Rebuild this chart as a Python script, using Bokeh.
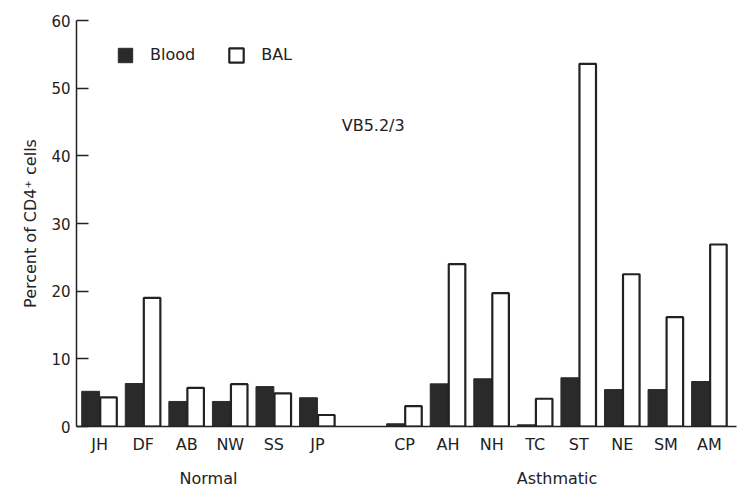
from bokeh.plotting import figure
from bokeh.models import (Range1d, LinearAxis, FixedTicker, Legend, LegendItem, Label,
                          ColumnDataSource)
from bokeh.embed import file_html
from bokeh.resources import INLINE

# ---- data ----
normal_subjects = ["JH", "DF", "AB", "NW", "SS", "JP"]
normal_blood = [5.2, 6.35, 3.7, 3.7, 5.9, 4.25]
normal_bal = [4.3, 19.0, 5.7, 6.25, 4.9, 1.7]

asthma_subjects = ["CP", "AH", "NH", "TC", "ST", "NE", "SM", "AM"]
asthma_blood = [0.4, 6.3, 7.05, 0.25, 7.2, 5.45, 5.45, 6.65]
asthma_bal = [3.0, 24.0, 19.7, 4.1, 53.6, 22.5, 16.15, 26.9]

group_names = ["Normal", "Asthmatic"]
series_names = ["Blood", "BAL"]
y_ticks = [0, 10, 20, 30, 40, 50, 60]
annotation_text = "VB5.2/3"

# ---- layout of categories ----
gap = 1
normal_pos = list(range(len(normal_subjects)))
asthma_pos = [len(normal_subjects) + gap + i for i in range(len(asthma_subjects))]
positions = normal_pos + asthma_pos
subjects = normal_subjects + asthma_subjects
blood = normal_blood + asthma_blood
bal = normal_bal + asthma_bal

bw = 0.41
src = ColumnDataSource(dict(
    xb=[p - bw / 2 for p in positions],
    xl=[p + bw / 2 for p in positions],
    blood=blood, bal=bal))

FONT = "DejaVu Sans"
FS = "16px"
TXT = "#222222"

p = figure(width=743, height=490, output_backend="svg", toolbar_location=None,
           x_range=Range1d(-0.53, 14.62), y_range=Range1d(0, 60),
           min_border_left=76, min_border_right=7, min_border_top=20, min_border_bottom=64,
           x_axis_type=None, y_axis_type=None)
p.outline_line_color = None
p.grid.visible = False
p.background_fill_color = "white"
p.border_fill_color = "white"

r_blood = p.vbar(x="xb", top="blood", bottom=0, width=bw, source=src,
                 fill_color="#2a2a2a", line_color="#2a2a2a", line_width=1)
r_bal = p.vbar(x="xl", top="bal", bottom=0, width=bw - 0.03, source=src,
               fill_color="white", line_color="#222222", line_width=2.2)

# y axis
yax = LinearAxis(ticker=FixedTicker(ticks=y_ticks))
yax.axis_label = "Percent of CD4\u207a cells"
yax.axis_label_text_font = FONT
yax.axis_label_text_font_size = FS
yax.axis_label_text_font_style = "normal"
yax.axis_label_text_color = TXT
yax.axis_label_standoff = 8
yax.major_label_text_font = FONT
yax.major_label_text_font_size = "15px"
yax.major_label_text_color = TXT
yax.major_label_standoff = 6
yax.major_tick_in = 12
yax.major_tick_out = 0
yax.minor_tick_line_color = None
yax.axis_line_width = 1.5
yax.major_tick_line_width = 1.5
yax.axis_line_color = "#222222"
yax.major_tick_line_color = "#222222"
p.add_layout(yax, "left")

# x axis with subject labels
xax = LinearAxis(ticker=FixedTicker(ticks=positions))
xax.major_label_overrides = {pos: s for pos, s in zip(positions, subjects)}
xax.major_tick_line_color = None
xax.minor_tick_line_color = None
xax.axis_line_width = 1.5
xax.axis_line_color = "#222222"
xax.major_label_text_font = FONT
xax.major_label_text_font_size = FS
xax.major_label_text_color = TXT
xax.major_label_standoff = 2
p.add_layout(xax, "below")

# group label axis
g_pos = [(normal_pos[0] + normal_pos[-1]) / 2, (asthma_pos[0] + asthma_pos[-1]) / 2]
gax = LinearAxis(ticker=FixedTicker(ticks=g_pos))
gax.major_label_overrides = {g_pos[0]: group_names[0], g_pos[1]: group_names[1]}
gax.axis_line_color = None
gax.major_tick_line_color = None
gax.minor_tick_line_color = None
gax.major_label_text_font = FONT
gax.major_label_text_font_size = FS
gax.major_label_text_color = TXT
gax.major_label_standoff = 6
p.add_layout(gax, "below")

# annotation
p.add_layout(Label(x=6.28, y=44.5, text=annotation_text, text_font=FONT,
                   text_font_size=FS, text_color=TXT, text_align="center",
                   text_baseline="middle"))

# legend
legend = Legend(items=[LegendItem(label=series_names[0], renderers=[r_blood]),
                       LegendItem(label=series_names[1], renderers=[r_bal])],
                orientation="horizontal", location=(40, 362),
                glyph_width=18, glyph_height=18, label_height=18,
                label_standoff=16, spacing=32, padding=0, margin=0,
                border_line_color=None, background_fill_alpha=0,
                label_text_font=FONT, label_text_font_size=FS, label_text_color=TXT)
p.add_layout(legend)

open("out.html", "w").write(file_html(p, INLINE))
